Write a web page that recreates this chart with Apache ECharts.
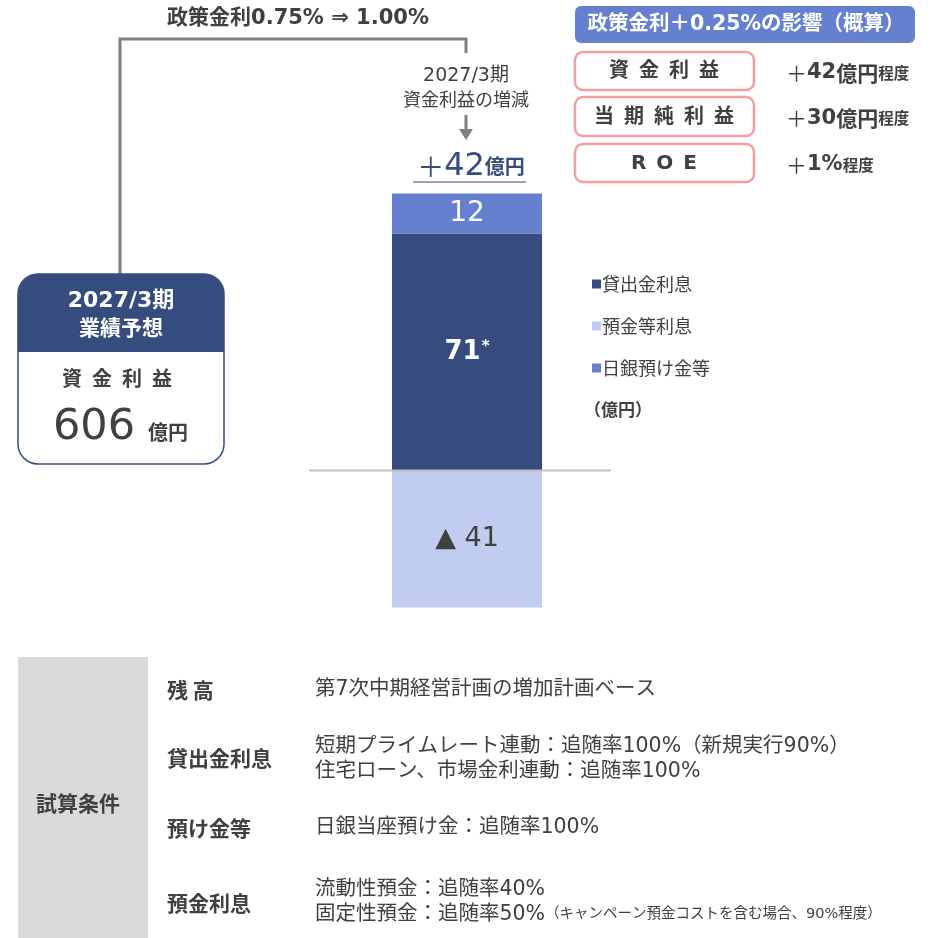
<!DOCTYPE html>
<html><head><meta charset="utf-8">
<script src="https://cdn.jsdelivr.net/npm/echarts@6/dist/echarts.min.js"></script>
<style>html,body{margin:0;padding:0;background:#fff}#c{width:930px;height:938px}</style>
</head><body><div id="c"></div>
<script>
const categories = ['2027/3期 資金利益の増減'];
const seriesNames = ['貸出金利息', '預金等利息', '日銀預け金等'];
const loanInterest = [71];
const depositInterest = [-41];
const bojDeposits = [12];
const totalChange = 42;
const forecastNII = 606;
const impactLabels = ['資\u2002金\u2002利\u2002益', '当\u2002期\u2002純\u2002利\u2002益', 'R\u2002O\u2002E'];
const impactValues = ['42', '30', '1'];
const impactUnits = ['億円', '億円', '%'];
const condLabels = ['残 高', '貸出金利息', '預け金等', '預金利息'];
const condTexts = [
  ['第7次中期経営計画の増加計画ベース'],
  ['短期プライムレート連動：追随率100%（新規実行90%）', '住宅ローン、市場金利連動：追随率100%'],
  ['日銀当座預け金：追随率100%'],
  ['流動性預金：追随率40%', '固定性預金：追随率50%']
];
const condNote = '（キャンペーン預金コストを含む場合、90%程度）';

const FONT = '"DejaVu Sans", "Noto Sans CJK JP", sans-serif';
const CJK = '"Noto Sans CJK JP", sans-serif';
const TXT = '#404040';
const NAVY = '#364b7e';
const MID = '#6580cf';
const LIGHT = '#c1cdf0';
const PINK = '#f4a0a0';

const chart = echarts.init(document.getElementById('c'), null, {renderer: 'canvas'});

function txt(x, y, text, size, opts) {
  opts = opts || {};
  return {
    type: 'text', x: x, y: y, silent: true,
    style: Object.assign({
      text: text, fontSize: size, fontFamily: opts.font || FONT, fill: opts.fill || TXT,
      fontWeight: opts.bold ? 'bold' : 'normal',
      align: opts.align || 'left', verticalAlign: 'middle'
    }, opts.rich ? {rich: opts.rich} : {})
  };
}

const graphics = [];
// bracket
graphics.push({type: 'polyline', silent: true, shape: {points: [[120, 274], [120, 39], [466, 39], [466, 53]]}, style: {stroke: '#7f7f7f', lineWidth: 3, fill: null}});
graphics.push(txt(298, 19, '政策金利0.75% ⇒ 1.00%', 21, {bold: true, align: 'center'}));
graphics.push(txt(466, 76, '2027/3期', 19, {align: 'center'}));
graphics.push(txt(466, 99, '資金利益の増減', 18, {align: 'center', font: CJK}));
graphics.push({type: 'line', silent: true, shape: {x1: 466, y1: 115, x2: 466, y2: 131}, style: {stroke: '#7f7f7f', lineWidth: 3}});
graphics.push({type: 'polygon', silent: true, shape: {points: [[459, 129], [473, 129], [466, 140]]}, style: {fill: '#7f7f7f'}});
graphics.push(txt(471, 167, '{p|＋}{a|' + totalChange + '}{b|億円}', 30, {align: 'center', rich: {
  p: {fontSize: 27, fontFamily: CJK, fill: NAVY},
  a: {fontSize: 32, fontFamily: FONT, fill: NAVY},
  b: {fontSize: 20, fontFamily: CJK, fill: NAVY, fontWeight: 'bold', padding: [0, 0, 2, 0]}
}}));
graphics.push({type: 'line', silent: true, shape: {x1: 413, y1: 182, x2: 526, y2: 182}, style: {stroke: '#7384ad', lineWidth: 1.5}});

// left box
graphics.push({type: 'rect', silent: true, shape: {x: 18, y: 274, width: 206, height: 190, r: 20}, style: {fill: '#fff', stroke: NAVY, lineWidth: 1.5}});
graphics.push({type: 'rect', silent: true, shape: {x: 18, y: 274, width: 206, height: 78, r: [20, 20, 0, 0]}, style: {fill: NAVY}});
graphics.push(txt(121, 301, '2027/3期', 22, {bold: true, align: 'center', fill: '#fff'}));
graphics.push(txt(121, 327, '業績予想', 21, {bold: true, align: 'center', fill: '#fff', font: CJK}));
graphics.push(txt(117, 381, '資\u2002金\u2002利\u2002益', 20, {bold: true, align: 'center'}));
graphics.push(txt(94, 428, String(forecastNII), 43, {align: 'center'}));
graphics.push(txt(148, 432, '億円', 20, {bold: true, font: CJK}));

// right header
graphics.push({type: 'rect', silent: true, shape: {x: 575, y: 6, width: 340, height: 37, r: 6}, style: {fill: MID}});
graphics.push(txt(746, 25, '政策金利＋0.25%の影響（概算）', 20.5, {bold: true, align: 'center', fill: '#fff'}));
const boxYs = [[52, 38], [97, 39], [144, 38]];
for (let i = 0; i < 3; i++) {
  graphics.push({type: 'rect', silent: true, shape: {x: 575, y: boxYs[i][0], width: 179, height: boxYs[i][1], r: 8}, style: {fill: '#fff', stroke: PINK, lineWidth: 2.5}});
  graphics.push(txt(664, boxYs[i][0] + boxYs[i][1] / 2 + 1, impactLabels[i], 20, {bold: true, align: 'center'}));
  const unitStyle = impactUnits[i] === '%' ? {fontSize: 21, fontFamily: FONT, fill: TXT, fontWeight: 'bold'} : {fontSize: 21, fontFamily: CJK, fill: TXT, fontWeight: 'bold'};
  graphics.push(txt(786, boxYs[i][0] + boxYs[i][1] / 2 + 2, '{p|＋}{a|' + impactValues[i] + '}{u|' + impactUnits[i] + '}{d|程度}', 21, {rich: {
    p: {fontSize: 21, fontFamily: CJK, fill: TXT},
    a: {fontSize: 21, fontFamily: FONT, fill: TXT, fontWeight: 'bold'},
    u: unitStyle,
    d: {fontSize: 15.5, fontFamily: CJK, fill: TXT, fontWeight: 'bold'}
  }}));
}

// legend unit
graphics.push(txt(584, 410, '（億円）', 17, {bold: true, font: CJK}));

// bottom table
graphics.push({type: 'rect', silent: true, shape: {x: 18, y: 657, width: 130, height: 281}, style: {fill: '#d9d9d9'}});
graphics.push(txt(78, 803, '試算条件', 21, {bold: true, align: 'center', font: CJK}));
const labYs = [690, 758, 828, 903];
const lineYs = [[690], [747, 772], [828], [890, 915]];
for (let i = 0; i < 4; i++) {
  graphics.push(txt(167, labYs[i], condLabels[i], 21, {bold: true, font: CJK}));
  for (let j = 0; j < condTexts[i].length; j++) {
    if (i === 3 && j === 1) {
      graphics.push(txt(315, lineYs[i][j], '{a|' + condTexts[i][j] + '}{b|' + condNote + '}', 20.5, {rich: {
        a: {fontSize: 20.5, fontFamily: FONT, fill: TXT},
        b: {fontSize: 14.5, fontFamily: FONT, fill: TXT, padding: [0, 0, 1, 0]}
      }}));
    } else {
      graphics.push(txt(315, lineYs[i][j], condTexts[i][j], 20.5));
    }
  }
}

const option = {
  animation: false,
  backgroundColor: '#fff',
  grid: {left: 392, width: 150, top: 170, height: 501},
  legend: {
    orient: 'vertical', left: 587, top: 270, itemWidth: 9, itemHeight: 9, itemGap: 24, icon: 'rect',
    data: seriesNames,
    textStyle: {fontSize: 18, fontFamily: CJK, color: TXT, lineHeight: 18, padding: [0, 0, 0, -4]}
  },
  xAxis: {type: 'category', data: categories, show: false},
  yAxis: {type: 'value', min: -60, max: 90, show: false, splitLine: {show: false}},
  series: [
    {name: seriesNames[0], type: 'bar', stack: 'nii', data: loanInterest, barWidth: 150, itemStyle: {color: NAVY},
      label: {show: true, position: 'inside', formatter: p => '{a|' + p.value + '}{s|*}',
        rich: {a: {fontSize: 26, fontFamily: FONT, color: '#fff', fontWeight: 'bold'}, s: {fontSize: 15, fontFamily: FONT, color: '#fff', fontWeight: 'bold', padding: [0, 0, 10, 1]}}}},
    {name: seriesNames[1], type: 'bar', stack: 'nii', data: depositInterest, barWidth: 150, itemStyle: {color: LIGHT},
      label: {show: true, position: 'inside', formatter: p => '▲ ' + Math.abs(p.value), fontSize: 27, fontFamily: FONT, color: TXT}},
    {name: seriesNames[2], type: 'bar', stack: 'nii', data: bojDeposits, barWidth: 150, itemStyle: {color: MID},
      label: {show: true, position: 'inside', formatter: p => String(p.value), fontSize: 28, fontFamily: FONT, color: '#fff'}}
  ],
  graphic: graphics
};
chart.setOption(option);
const zeroY = chart.convertToPixel({yAxisIndex: 0}, 0);
graphics.push({type: 'line', silent: true, z: 10, shape: {x1: 309, y1: zeroY, x2: 611, y2: zeroY}, style: {stroke: '#bfbfbf', lineWidth: 2}});
chart.setOption({graphic: graphics});
</script></body></html>
